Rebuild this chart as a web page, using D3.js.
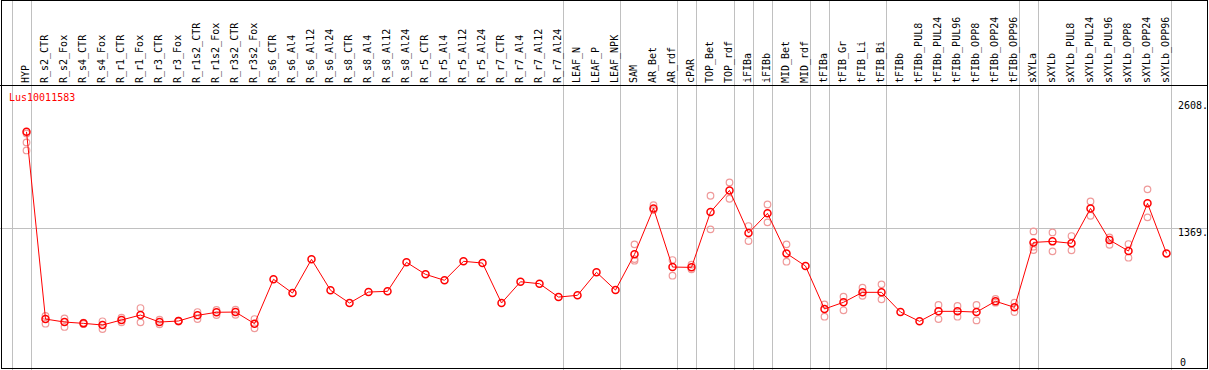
<!DOCTYPE html>
<html><head><meta charset="utf-8">
<script src="https://cdn.jsdelivr.net/npm/d3@7"></script>
<style>
body{margin:0;background:#fff}
svg{display:block}
text{font-family:"DejaVu Sans Mono","Liberation Mono",monospace;font-size:10px}
</style>
</head><body>
<svg id="chart" width="1209" height="370"></svg>
<script>
const title = "Lus10011583";
const categories = ["HYP","R_s2_CTR","R_s2_Fox","R_s4_CTR","R_s4_Fox","R_r1_CTR","R_r1_Fox","R_r3_CTR","R_r3_Fox","R_r1s2_CTR","R_r1s2_Fox","R_r3s2_CTR","R_r3s2_Fox","R_s6_CTR","R_s6_Al4","R_s6_Al12","R_s6_Al24","R_s8_CTR","R_s8_Al4","R_s8_Al12","R_s8_Al24","R_r5_CTR","R_r5_Al4","R_r5_Al12","R_r5_Al24","R_r7_CTR","R_r7_Al4","R_r7_Al12","R_r7_Al24","LEAF_N","LEAF_P","LEAF_NPK","SAM","AR_Bet","AR_rdf","cPAR","TOP_Bet","TOP_rdf","iFIBa","iFIBb","MID_Bet","MID_rdf","tFIBa","tFIB_Gr","tFIB_Li","tFIB_Bi","tFIBb","tFIBb_PUL8","tFIBb_PUL24","tFIBb_PUL96","tFIBb_OPP8","tFIBb_OPP24","tFIBb_OPP96","sXYLa","sXYLb","sXYLb_PUL8","sXYLb_PUL24","sXYLb_PUL96","sXYLb_OPP8","sXYLb_OPP24","sXYLb_OPP96"];
const groupSizes = [1,28,3,3,1,2,1,1,2,1,3,7,1,7];
const meanValues = [2308,486,457,444,428,477,525,457,467,522,552,554,441,873,739,1067,766,642,749,756,1038,921,863,1048,1031,642,849,830,700,717,941,768,1116,1563,992,989,1527,1738,1323,1515,1125,1002,584,649,746,746,554,464,561,561,554,659,600,1232,1242,1223,1563,1255,1148,1612,1125];
const replicateValues = [
 [2292,2205,2127],[516,441],[493,409],[450,438],[464,389],[499,454],[593,454],[480,435],[470,462],[554,486],[574,525],[577,528],[486,396],
 [],[],[],[],[],[],[],[],[],[],[],[],[],[],[],[],[],[],[],
 [1213,1070,1054],[1595,1547],[1060,908],[1015,970],[1686,1359],[1816,1657],[1391,1245],[1601,1427],[1213,1044],[],
 [629,509],[703,571],[791,713],[824,678],[],[],[623,486],[613,509],[623,473],[681,645],[645,554],
 [1339,1190,1158],[1329,1145],[1294,1155],[1631,1491],[1281,1209],[1216,1083],[1748,1476],[]
];
const yTickValues = [0,1369,2608];
const yTickLabels = ["0","1369.","2608."];

const W = 1209, H = 370;
const svg = d3.select("#chart");
const x = d3.scalePoint().domain(categories).range([26.5, 26.5 + 19*(categories.length-1)]);
const y = d3.scaleLinear().domain([0, 2608]).range([369, 101]);

// separators between groups
let sepIdx = [-1]; let acc = -1;
groupSizes.forEach(s => { acc += s; sepIdx.push(acc); });
const sepX = i => 26.5 + 19*i + 4.3;
svg.append("g").selectAll("line").data(sepIdx).join("line")
  .attr("x1", d => Math.round(sepX(d)) + 0.5).attr("x2", d => Math.round(sepX(d)) + 0.5)
  .attr("y1", 0).attr("y2", H).attr("stroke", "#c0c0c0").attr("stroke-width", 1);

// horizontal grid at middle tick
svg.append("line").attr("x1", 0).attr("x2", 1207)
  .attr("y1", Math.round(y(1369)) + 0.5).attr("y2", Math.round(y(1369)) + 0.5)
  .attr("stroke", "#c0c0c0");

// header line and border
svg.append("line").attr("x1", 0).attr("x2", 1208).attr("y1", 85.5).attr("y2", 85.5).attr("stroke", "#000");
svg.append("rect").attr("x", 1.5).attr("y", 0.5).attr("width", 1206).attr("height", 368)
  .attr("fill", "none").attr("stroke", "#000");

// category labels
svg.append("g").selectAll("text").data(categories).join("text")
  .attr("transform", d => `translate(${x(d) + 2.5},83) rotate(-90)`)
  .attr("fill", "#000").text(d => d);

// title
svg.append("text").attr("x", 9).attr("y", 101).attr("fill", "#ff0000").text(title);

// y labels
svg.append("g").selectAll("text").data(yTickValues).join("text")
  .attr("x", d => d === 0 ? 1180 : 1178)
  .attr("y", d => d === 0 ? 366 : y(d) + 8)
  .attr("fill", "#000").text((d, i) => yTickLabels[i]);

// replicates
const reps = [];
replicateValues.forEach((arr, i) => arr.forEach(v => reps.push({c: categories[i], v})));
svg.append("g").selectAll("circle").data(reps).join("circle")
  .attr("cx", d => x(d.c)).attr("cy", d => y(d.v)).attr("r", 3.3)
  .attr("fill", "none").attr("stroke", "#ef9a9a").attr("stroke-width", 1.2);

// line
svg.append("path").datum(meanValues)
  .attr("d", d3.line().x((d, i) => x(categories[i])).y(d => y(d)))
  .attr("fill", "none").attr("stroke", "#ff0000").attr("stroke-width", 1);

// main points
svg.append("g").selectAll("circle").data(meanValues).join("circle")
  .attr("cx", (d, i) => x(categories[i])).attr("cy", d => y(d)).attr("r", 3.5)
  .attr("fill", "none").attr("stroke", "#ff0000").attr("stroke-width", 1.5);
</script>
</body></html>
